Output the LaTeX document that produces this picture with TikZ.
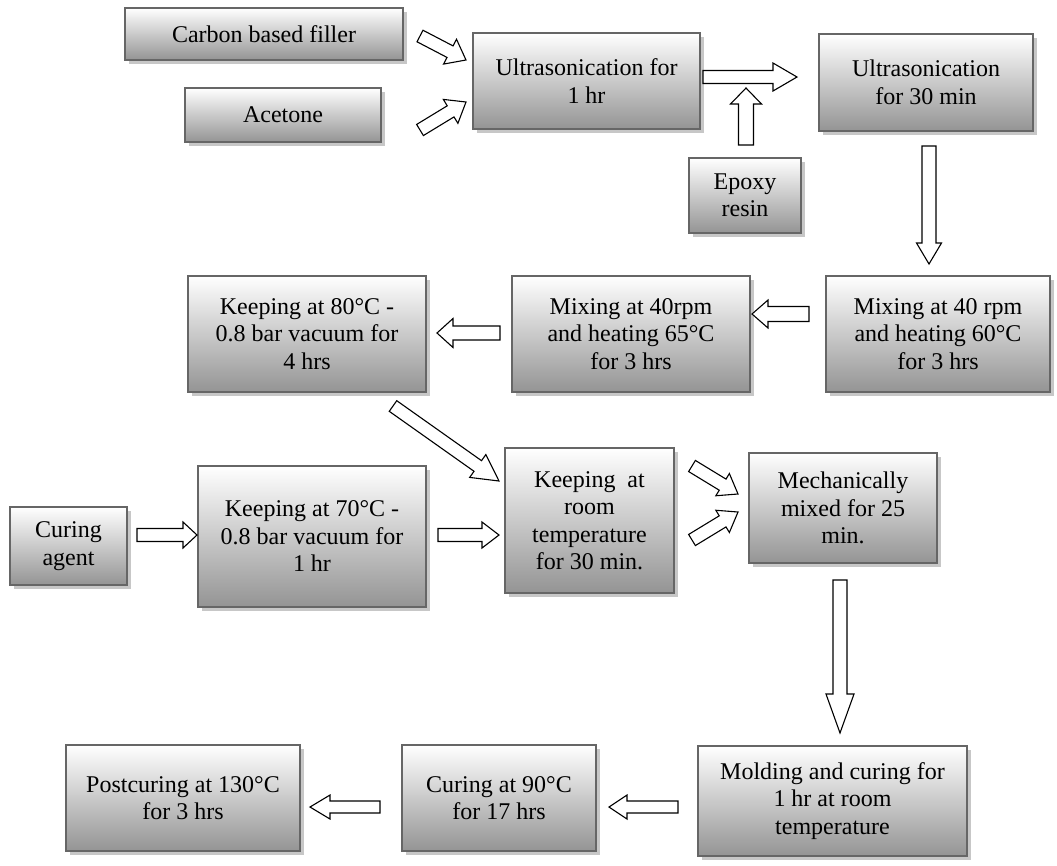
\documentclass[tikz,border=0pt]{standalone}
\usepackage{fontspec}
\setmainfont{Liberation Serif}
\usetikzlibrary{calc,shadows}
\tikzset{
  procbox/.style={draw=black!60, line width=1.3pt, top color=white, bottom color=black!42,
    align=center, inner sep=0pt, text=black, font=\fontsize{24}{27.5}\selectfont,
    drop shadow={shadow xshift=4pt, shadow yshift=-4pt, fill=black!22, opacity=1}},
  blockarrow/.style={draw=black, line width=1.1pt, fill=white, line join=miter},
}
% #1 tail, #2 tip, #3 shaft half width, #4 head half width, #5 head length
\newcommand\barrow[5]{%
  \draw[blockarrow] let \p1=(#1), \p2=(#2),
    \n1={atan2(\y2-\y1,\x2-\x1)}, \n2={veclen(\x2-\x1,\y2-\y1)} in
    ($(\p1)+(\n1+90:#3pt)$)
    -- ($(\p1)+(\n1:{(\n2-#5)*1pt})+(\n1+90:#3pt)$)
    -- ($(\p1)+(\n1:{(\n2-#5)*1pt})+(\n1+90:#4pt)$)
    -- (\p2)
    -- ($(\p1)+(\n1:{(\n2-#5)*1pt})+(\n1-90:#4pt)$)
    -- ($(\p1)+(\n1:{(\n2-#5)*1pt})+(\n1-90:#3pt)$)
    -- ($(\p1)+(\n1-90:#3pt)$) -- cycle;}
\begin{document}
\begin{tikzpicture}[x=1pt,y=-1pt]
\useasboundingbox (0,0) rectangle (1057,865);
% boxes
\node[procbox, minimum width=278pt, minimum height=52pt] (carbon) at (264,34) {Carbon based filler};
\node[procbox, minimum width=196pt, minimum height=54pt] (acetone) at (283,115) {Acetone};
\node[procbox, minimum width=227pt, minimum height=96pt] (ultra1) at (586.5,81) {Ultrasonication for\\1 hr};
\node[procbox, minimum width=214pt, minimum height=97pt] (ultra2) at (926,82.5) {Ultrasonication\\for 30 min};
\node[procbox, minimum width=112pt, minimum height=75pt] (epoxy) at (745,195.5) {Epoxy\\resin};
\node[procbox, minimum width=224pt, minimum height=116pt] (mix60) at (938,334) {Mixing at 40 rpm\\and heating 60°C\\for 3 hrs};
\node[procbox, minimum width=238pt, minimum height=116pt] (mix65) at (631,334) {Mixing at 40rpm\\and heating 65°C\\for 3 hrs};
\node[procbox, minimum width=238pt, minimum height=116pt] (keep80) at (307,334) {Keeping at 80°C -\\0.8 bar vacuum for\\4 hrs};
\node[procbox, minimum width=117pt, minimum height=78pt] (curagent) at (68.5,546) {Curing\\agent};
\node[procbox, minimum width=228pt, minimum height=141pt] (keep70) at (312,536.5) {Keeping at 70°C -\\0.8 bar vacuum for\\1 hr};
\node[procbox, minimum width=169pt, minimum height=145pt] (keep30) at (589.5,520.5) {Keeping~~at\\room\\temperature\\for 30 min.};
\node[procbox, minimum width=188pt, minimum height=110pt] (mech) at (843,508) {Mechanically\\mixed for 25\\min.};
\node[procbox, minimum width=269pt, minimum height=110pt] (molding) at (832.5,801) {Molding and curing for\\1 hr at room\\temperature};
\node[procbox, minimum width=194pt, minimum height=106pt] (cure90) at (499,798) {Curing at 90°C\\for 17 hrs};
\node[procbox, minimum width=234pt, minimum height=106pt] (postcure) at (183,798) {Postcuring at 130°C\\for 3 hrs};
% arrow ends
\coordinate (a1s) at (420,36);  \coordinate (a1e) at (466,60);
\coordinate (a2s) at (420,130); \coordinate (a2e) at (466,102);
\coordinate (a3s) at (703,77);  \coordinate (a3e) at (797,77);
\coordinate (a4s) at (746,145); \coordinate (a4e) at (746,88);
\coordinate (a5s) at (929,146); \coordinate (a5e) at (929,264);
\coordinate (a6s) at (809,314); \coordinate (a6e) at (752,314);
\coordinate (a7s) at (500,333); \coordinate (a7e) at (437,333);
\coordinate (a8s) at (393,406); \coordinate (a8e) at (499,481);
\coordinate (a9s) at (137,535); \coordinate (a9e) at (197,535);
\coordinate (a10s) at (438,535); \coordinate (a10e) at (499,535);
\coordinate (a11s) at (692,466); \coordinate (a11e) at (738,494);
\coordinate (a12s) at (692,540); \coordinate (a12e) at (738,512);
\coordinate (a13s) at (840,580); \coordinate (a13e) at (840,733);
\coordinate (a14s) at (678,807); \coordinate (a14e) at (609,807);
\coordinate (a15s) at (380,807); \coordinate (a15e) at (310,807);
% arrows
\barrow{a1s}{a1e}{6.5}{14}{18}
\barrow{a2s}{a2e}{6.5}{14}{18}
\barrow{a3s}{a3e}{6.5}{14}{24}
\barrow{a4s}{a4e}{7.5}{15.5}{16}
\barrow{a5s}{a5e}{7}{12.5}{21}
\barrow{a6s}{a6e}{7.5}{14}{16}
\barrow{a7s}{a7e}{7}{14.5}{16}
\barrow{a8s}{a8e}{6.5}{14}{26}
\barrow{a9s}{a9e}{6.5}{13}{14}
\barrow{a10s}{a10e}{6.5}{13}{17}
\barrow{a11s}{a11e}{6.5}{13}{18}
\barrow{a12s}{a12e}{6.5}{13}{18}
\barrow{a13s}{a13e}{7}{14}{39}
\barrow{a14s}{a14e}{6}{12}{18}
\barrow{a15s}{a15e}{6}{12}{20}
\end{tikzpicture}
\end{document}
